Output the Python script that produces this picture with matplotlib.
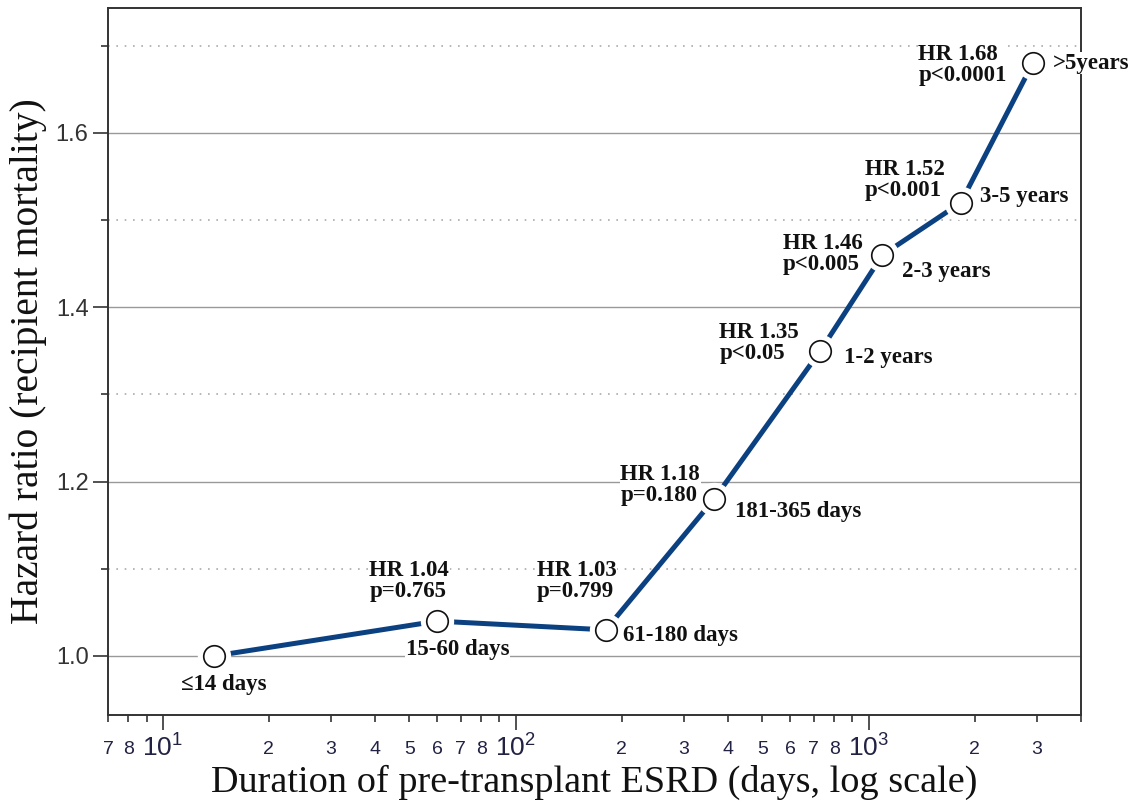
from __future__ import annotations

import matplotlib

matplotlib.use("Agg")

import matplotlib.pyplot as plt
from matplotlib.ticker import FixedLocator, FuncFormatter, LogLocator, NullFormatter


# =========================
# Datos
# =========================
DAYS = [14, 60, 180, 365, 730, 1095, 1825, 2920]
HR = [1.00, 1.04, 1.03, 1.18, 1.35, 1.46, 1.52, 1.68]
P_TEXT = [None, "p=0.765", "p=0.799", "p=0.180", "p<0.05", "p<0.005", "p<0.001", "p<0.0001"]
RANGES = [
    "\u226414 days",
    "15-60 days",
    "61-180 days",
    "181-365 days",
    "1-2 years",
    "2-3 years",
    "3-5 years",
    ">5years",
]

Y_MAJOR = [1.0, 1.2, 1.4, 1.6]
Y_MINOR = [1.1, 1.3, 1.5, 1.7]

OUTPUT = "out.png"

LINE_COLOR = "#0c4181"
TEXT_COLOR = "#111111"
SERIF = ["Liberation Serif", "DejaVu Serif"]

# (dx, dy, ha) en pixeles respecto del punto: etiqueta HR/p y etiqueta de rango
HR_POS = [
    None,
    (-28, 40, "center"),
    (-29, 49, "center"),
    (-14, 14, "right"),
    (-101, 8, "left"),
    (-20, 1, "right"),
    (-16, 23, "right"),
    (-26, -2, "right"),
]
RANGE_POS = [
    (10, -29, "center"),
    (20, -28, "center"),
    (17, -6, "left"),
    (21, -12, "left"),
    (24, -7, "left"),
    (20, -16, "left"),
    (19, 6, "left"),
    (20, 0, "left"),
]


def style_axes(ax) -> None:
    ax.set_xscale("log")
    ax.set_xlim(7, 4000)
    ax.set_ylim(0.9323, 1.7434)

    ax.xaxis.set_major_locator(LogLocator(base=10))
    ax.xaxis.set_minor_locator(LogLocator(base=10, subs=range(2, 10)))

    # etiquetas menores solo donde aparecen
    minor_lbl = {7: "7", 8: "8", 20: "2", 30: "3", 40: "4", 50: "5", 60: "6",
                 70: "7", 80: "8", 200: "2", 300: "3", 400: "4", 500: "5",
                 600: "6", 700: "7", 800: "8", 2000: "2", 3000: "3"}
    ax.xaxis.set_minor_formatter(
        FuncFormatter(lambda v, _: minor_lbl.get(int(round(v)), ""))
    )

    ax.yaxis.set_major_locator(FixedLocator(Y_MAJOR))
    ax.yaxis.set_minor_locator(FixedLocator(Y_MINOR))
    ax.yaxis.set_minor_formatter(NullFormatter())
    ax.set_yticklabels([f"{v:.1f}" for v in Y_MAJOR])

    ax.tick_params(axis="both", which="major", direction="out", length=11,
                   width=1.2, color="#333333")
    ax.tick_params(axis="both", which="minor", direction="out", length=5,
                   width=1.2, color="#333333")
    ax.tick_params(axis="x", which="major", labelsize=19, pad=3, labelcolor="#222244")
    ax.tick_params(axis="x", which="minor", labelsize=14, pad=14, labelcolor="#222244")
    ax.tick_params(axis="y", which="major", labelsize=17, pad=3, labelcolor="#333333")
    for lbl in ax.get_xticklabels(which="both") + ax.get_yticklabels():
        lbl.set_family("Liberation Sans")

    for spine in ax.spines.values():
        spine.set_color("#333333")
        spine.set_linewidth(1.4)

    for y in Y_MAJOR:
        ax.axhline(y, color="#999999", lw=1.0, zorder=0)
    for y in Y_MINOR:
        ax.axhline(y, color="#aaaaaa", lw=1.2, ls=(0, (1, 4)), zorder=0)

    ax.set_xlabel("Duration of pre-transplant ESRD (days, log scale)",
                  family=SERIF, fontsize=27.5, color=TEXT_COLOR, labelpad=2)
    ax.set_ylabel("Hazard ratio (recipient mortality)",
                  family=SERIF, fontsize=28.5, color=TEXT_COLOR, labelpad=6)


def draw_series(ax) -> None:
    ax.plot(DAYS, HR, color=LINE_COLOR, lw=3.6, zorder=3, solid_capstyle="butt")
    # hueco blanco alrededor de cada marcador
    ax.plot(DAYS, HR, ls="none", marker="o", ms=23, mfc="white", mec="white",
            zorder=4, clip_on=False)
    ax.plot(DAYS, HR, ls="none", marker="o", ms=15.5, mfc="white", mec="#111111",
            mew=1.2, zorder=5, clip_on=False)


def draw_labels(ax) -> None:
    font = dict(family=SERIF, fontsize=16.5, fontweight="bold", color=TEXT_COLOR)
    box = dict(facecolor="white", edgecolor="none", pad=0.5)

    for i, (x, y) in enumerate(zip(DAYS, HR)):
        if P_TEXT[i] is not None:
            dx, dy, ha = HR_POS[i]
            ax.annotate(f"HR {y:.2f}\n{P_TEXT[i]}", xy=(x, y), xytext=(dx, dy),
                        textcoords="offset pixels", ha=ha, va="center",
                        multialignment="left", linespacing=1.0, bbox=box,
                        zorder=6, annotation_clip=False, **font)
        dx, dy, ha = RANGE_POS[i]
        ax.annotate(RANGES[i], xy=(x, y), xytext=(dx, dy),
                    textcoords="offset pixels", ha=ha, va="center", bbox=box,
                    zorder=6, annotation_clip=False, **font)


def main() -> None:
    fig = plt.figure(figsize=(11.4, 8.05), dpi=100)
    ax = fig.add_axes([108 / 1140, 1 - 715 / 805, (1081 - 108) / 1140, (715 - 8) / 805])

    style_axes(ax)
    draw_series(ax)
    draw_labels(ax)

    fig.savefig(OUTPUT, dpi=100, facecolor="white")
    plt.close(fig)


if __name__ == "__main__":
    main()
